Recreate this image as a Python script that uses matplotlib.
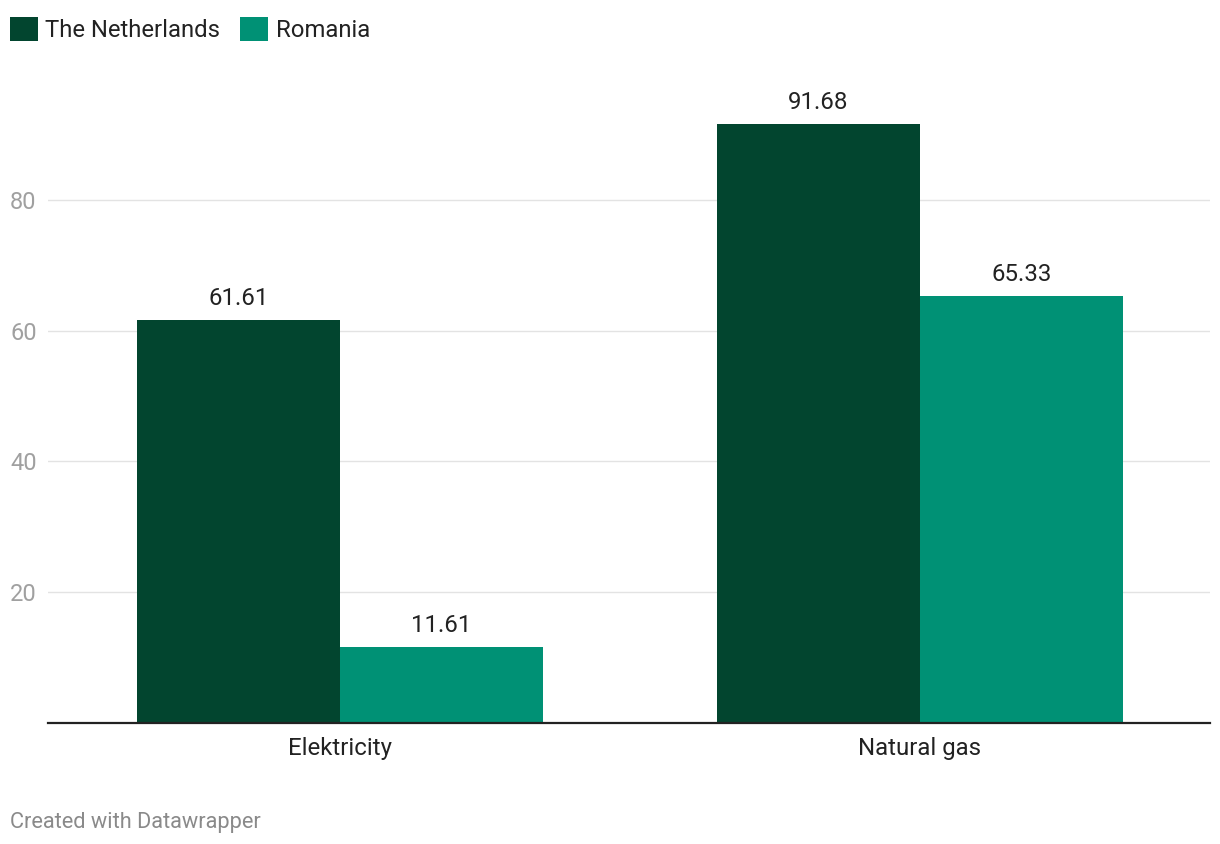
import numpy as np
import matplotlib.pyplot as plt

categories = ["Elektricity", "Natural gas"]
netherlands = [61.61, 91.68]
romania = [11.61, 65.33]
series_names = ["The Netherlands", "Romania"]
colors = ["#02452f", "#009175"]

plt.rcParams["font.family"] = ["Roboto", "DejaVu Sans"]

W, H = 1220, 844
fig = plt.figure(figsize=(W / 100, H / 100), dpi=100)
ax = fig.add_axes([48 / W, (H - 722.7) / H, (1210 - 48) / W, (722.7 - 60) / H])

x = np.arange(len(categories))
width = 0.35
bars_nl = ax.bar(x - width / 2, netherlands, width, color=colors[0], label=series_names[0], zorder=3)
bars_ro = ax.bar(x + width / 2, romania, width, color=colors[1], label=series_names[1], zorder=3)

for bars in (bars_nl, bars_ro):
    for b in bars:
        ax.annotate(f"{b.get_height():.2f}", (b.get_x() + b.get_width() / 2, b.get_height()),
                    xytext=(0, 10.5), textcoords="offset points", ha="center", va="baseline",
                    fontsize=17.3, color="#222222")

ax.set_xlim(-0.503, 1.5)
ax.set_ylim(0, 101.4)
ax.set_yticks([20, 40, 60, 80])
ax.set_xticks(x)
ax.set_xticklabels(categories)
ax.tick_params(axis="y", length=0, labelsize=17, labelcolor="#a0a0a0")
ax.tick_params(axis="x", length=0, pad=10, labelsize=17.3, labelcolor="#222222")
for lbl in ax.get_yticklabels():
    lbl.set_horizontalalignment("left")
ax.yaxis.set_tick_params(pad=38 * 0.72)

ax.grid(axis="y", color="#e3e3e3", linewidth=1, zorder=0)
for s in ["top", "right", "left"]:
    ax.spines[s].set_visible(False)
ax.spines["bottom"].set_color("#222222")
ax.spines["bottom"].set_linewidth(1.6)
ax.spines["bottom"].set_zorder(4)

fig.legend(handles=[bars_nl, bars_ro], labels=series_names, loc="upper left",
           bbox_to_anchor=(10 / W, 1 - 17 / H), ncol=2, frameon=False, fontsize=17.2,
           borderpad=0, borderaxespad=0, handlelength=1.17, handleheight=1.17,
           handletextpad=0.3, columnspacing=0.85, labelcolor="#222222")

fig.text(10 / W, (H - 828) / H, "Created with Datawrapper", fontsize=15.7,
         color="#8a8a8a", va="baseline", ha="left")

fig.savefig("out.png", dpi=100)
